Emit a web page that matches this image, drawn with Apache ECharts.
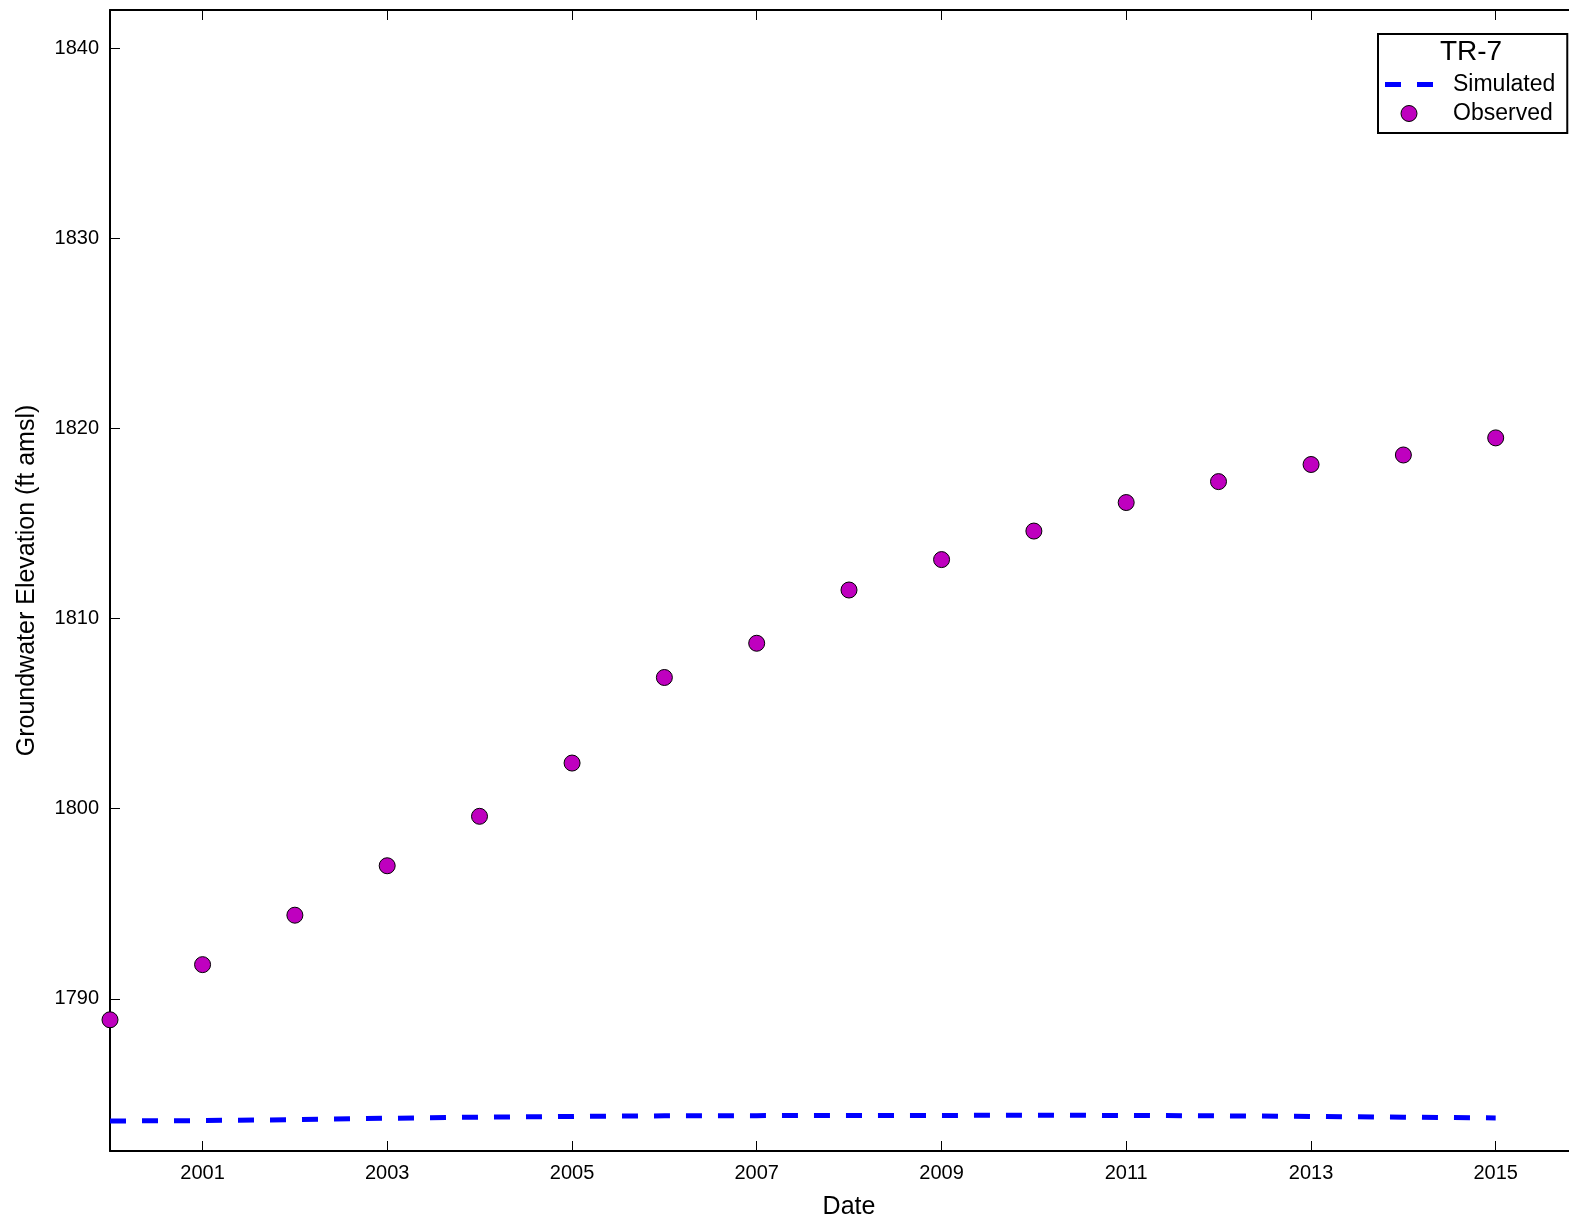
<!DOCTYPE html>
<html>
<head>
<meta charset="utf-8">
<script src="https://cdn.jsdelivr.net/npm/echarts@6/dist/echarts.min.js"></script>
<style>html,body{margin:0;padding:0;background:#fff;}#c{width:1569px;height:1217px;}</style>
</head>
<body>
<div id="c"></div>
<script>
const years = [2000,2001,2002,2003,2004,2005,2006,2007,2008,2009,2010,2011,2012,2013,2014,2015];
const observed = [1788.9,1791.8,1794.4,1797.0,1799.6,1802.4,1806.9,1808.7,1811.5,1813.1,1814.6,1816.1,1817.2,1818.1,1818.6,1819.5];
const simulated = [1783.58,1783.60,1783.65,1783.72,1783.78,1783.82,1783.85,1783.86,1783.87,1783.87,1783.88,1783.87,1783.85,1783.82,1783.78,1783.74];
const xTickYears = [2001,2003,2005,2007,2009,2011,2013,2015];
const yTicks = [1790,1800,1810,1820,1830,1840];
const legendTitle = 'TR-7';

const ts = y => Date.UTC(y, 0, 1);
const xMin = ts(2000), xMax = ts(2016);
const xTicks = xTickYears.map(ts);
const font = 'Liberation Sans, Arial, sans-serif';

const chart = echarts.init(document.getElementById('c'), null, {renderer: 'canvas'});
const axisLine = {show: true, onZero: false, lineStyle: {color: '#000', width: 2}};
const tickStyle = {color: '#000', width: 1};
chart.setOption({
  animation: false,
  backgroundColor: '#fff',
  grid: {left: 110, top: 10, width: 1478, bottom: 66, containLabel: false, outerBoundsMode: 'none'},
  xAxis: [{
    type: 'value', min: xMin, max: xMax, position: 'bottom', scale: true,
    axisLine: axisLine,
    axisTick: {show: true, inside: true, length: 10, lineStyle: tickStyle, customValues: xTicks},
    axisLabel: {show: true, customValues: xTicks, margin: 12, color: '#000', fontSize: 20, fontFamily: font,
      formatter: v => String(new Date(v).getUTCFullYear())},
    splitLine: {show: false}, minorTick: {show: false},
    name: 'Date', nameLocation: 'middle', nameGap: 44,
    nameTextStyle: {color: '#000', fontSize: 25, fontFamily: font}
  }, {
    type: 'value', min: xMin, max: xMax, position: 'top', scale: true,
    axisLine: axisLine,
    axisTick: {show: true, inside: true, length: 10, lineStyle: tickStyle, customValues: xTicks},
    axisLabel: {show: false}, splitLine: {show: false}
  }],
  yAxis: [{
    type: 'value', min: 1782, max: 1842, position: 'left', scale: true,
    axisLine: axisLine,
    axisTick: {show: true, inside: true, length: 10, lineStyle: tickStyle, customValues: yTicks},
    axisLabel: {show: true, customValues: yTicks, margin: 11, color: '#000', fontSize: 20, fontFamily: font,
      formatter: v => String(v)},
    splitLine: {show: false},
    name: 'Groundwater Elevation (ft amsl)', nameLocation: 'middle', nameGap: 70,
    nameTextStyle: {color: '#000', fontSize: 25, fontFamily: font}
  }, {
    type: 'value', min: 1782, max: 1842, position: 'right', scale: true,
    axisLine: axisLine,
    axisTick: {show: true, inside: true, length: 10, lineStyle: tickStyle, customValues: yTicks},
    axisLabel: {show: false}, splitLine: {show: false}
  }],
  legend: {
    orient: 'vertical', left: 1378, top: 34,
    backgroundColor: '#fff', borderColor: '#000', borderWidth: 2, borderRadius: 0,
    padding: [39, 12, 8, 7],
    itemWidth: 48, itemHeight: 16, itemGap: 6,
    textStyle: {color: '#000', fontSize: 23, lineHeight: 22, fontFamily: font, padding: [0, 0, 0, 15]},
    data: [{
      name: 'Simulated',
      icon: 'path://M0,0 M0,5.5 L16,5.5 L16,10.5 L0,10.5 Z M32,5.5 L48,5.5 L48,10.5 L32,10.5 Z M48,16',
      itemStyle: {color: '#0000ff', borderWidth: 0}
    }, {
      name: 'Observed', icon: 'circle',
      itemStyle: {color: '#bf00bf', borderColor: '#000', borderWidth: 1}
    }]
  },
  graphic: [{
    type: 'text', x: 1471, y: 52, z: 100,
    style: {text: legendTitle, align: 'center', verticalAlign: 'middle', fill: '#000', fontSize: 28, fontFamily: font}
  }],
  series: [{
    name: 'Simulated', type: 'line', xAxisIndex: 0, yAxisIndex: 0,
    data: years.map((y, i) => [ts(y), simulated[i]]),
    showSymbol: false, symbol: 'none', smooth: false,
    lineStyle: {color: '#0000ff', width: 5, type: [16, 16]},
    itemStyle: {color: '#0000ff'}
  }, {
    name: 'Observed', type: 'scatter', xAxisIndex: 0, yAxisIndex: 0,
    data: years.map((y, i) => [ts(y), observed[i]]),
    symbol: 'circle', symbolSize: 16,
    itemStyle: {color: '#bf00bf', borderColor: '#000', borderWidth: 1, opacity: 1},
    clip: false
  }]
});
</script>
</body>
</html>
